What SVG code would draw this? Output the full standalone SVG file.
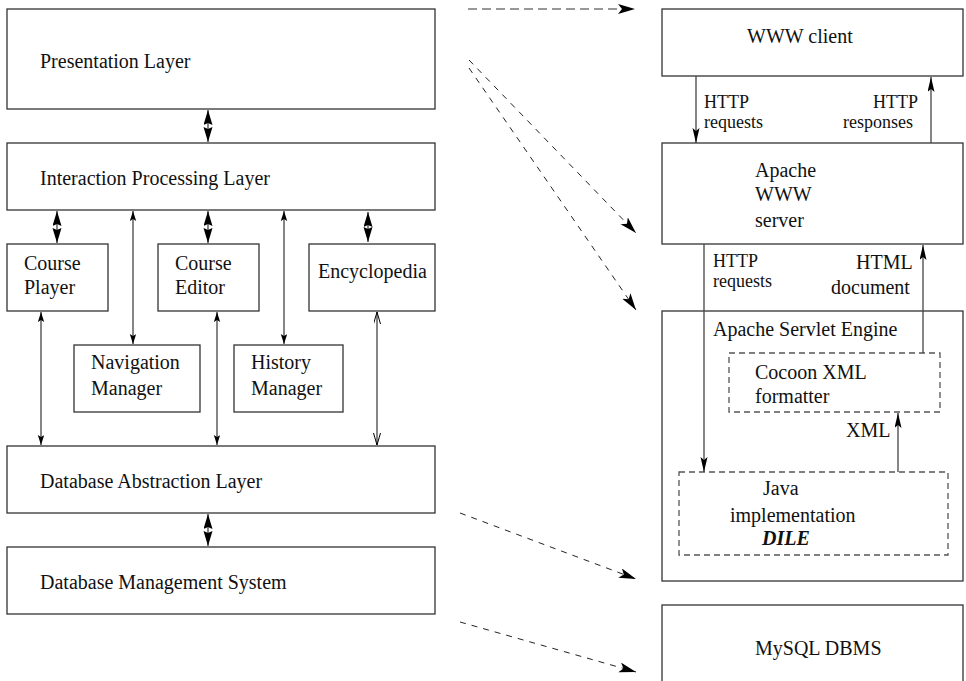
<svg xmlns="http://www.w3.org/2000/svg" width="966" height="681" viewBox="0 0 966 681">
  <style>
    text { font-family: "Liberation Serif", "Times New Roman", serif; font-size: 20px; fill: #111; }
    .lbl { font-size: 18px; }
    .box { fill: #fff; stroke: #333; stroke-width: 1.3; }
    .dbox { fill: none; stroke: #555; stroke-width: 1.3; stroke-dasharray: 6 4; }
    .ln { fill: none; stroke: #444; stroke-width: 1.3; }
    .dash { fill: none; stroke: #222; stroke-width: 1; stroke-dasharray: 6 6; }
    .dashg { fill: none; stroke: #777; stroke-width: 1.6; stroke-dasharray: 9 5; }
    .bi { font-weight: bold; font-style: italic; }
  </style>
  <defs>
    <!-- large filled head used by the layer-to-layer double arrows -->
    <marker id="hf" markerUnits="userSpaceOnUse" markerWidth="17" markerHeight="10" refX="15" refY="4.5" orient="auto-start-reverse">
      <path d="M0,0 L15,4.5 L0,9 L2,4.5 z" fill="#000"/>
    </marker>
    <!-- small filled head -->
    <marker id="hs" markerUnits="userSpaceOnUse" markerWidth="12" markerHeight="8" refX="10" refY="3.2" orient="auto-start-reverse">
      <path d="M0,0 L10,3.2 L0,6.4 L2,3.2 z" fill="#000"/>
    </marker>
    <!-- open head -->
    <marker id="ho" markerUnits="userSpaceOnUse" markerWidth="14" markerHeight="8" refX="12" refY="3.5" orient="auto-start-reverse">
      <path d="M0,0 L12,3.5 L0,7" fill="none" stroke="#000" stroke-width="1"/>
    </marker>
    <!-- narrow filled head for the HTTP flows -->
    <marker id="hr" markerUnits="userSpaceOnUse" markerWidth="17" markerHeight="9" refX="15" refY="3.5" orient="auto-start-reverse">
      <path d="M0,0 L15,3.5 L0,7 L3,3.5 z" fill="#000"/>
    </marker>
    <!-- head for the dashed mapping arrows -->
    <marker id="hd" markerUnits="userSpaceOnUse" markerWidth="20" markerHeight="12" refX="17" refY="5" orient="auto">
      <path d="M0,0 L17,5 L0,10 L4,5 z" fill="#000"/>
    </marker>
  </defs>

  <!-- left stack -->
  <g id="presentation-layer">
    <rect class="box" x="7" y="9" width="428" height="100"/>
    <text x="40" y="68">Presentation Layer</text>
  </g>
  <g id="interaction-processing-layer">
    <rect class="box" x="7" y="143" width="428" height="67"/>
    <text x="40" y="185">Interaction Processing Layer</text>
  </g>
  <g id="course-player">
    <rect class="box" x="7" y="244" width="101" height="67"/>
    <text x="24" y="270">Course</text>
    <text x="24" y="294">Player</text>
  </g>
  <g id="course-editor">
    <rect class="box" x="158" y="244" width="101" height="67"/>
    <text x="175" y="270">Course</text>
    <text x="175" y="294">Editor</text>
  </g>
  <g id="encyclopedia">
    <rect class="box" x="309" y="244" width="126" height="67"/>
    <text x="318" y="278">Encyclopedia</text>
  </g>
  <g id="navigation-manager">
    <rect class="box" x="74" y="345" width="126" height="67"/>
    <text x="91" y="369">Navigation</text>
    <text x="91" y="395">Manager</text>
  </g>
  <g id="history-manager">
    <rect class="box" x="234" y="345" width="109" height="67"/>
    <text x="251" y="369">History</text>
    <text x="251" y="395">Manager</text>
  </g>
  <g id="database-abstraction-layer">
    <rect class="box" x="7" y="446" width="428" height="67"/>
    <text x="40" y="488">Database Abstraction Layer</text>
  </g>
  <g id="database-management-system">
    <rect class="box" x="7" y="547" width="428" height="67"/>
    <text x="40" y="589">Database Management System</text>
  </g>

  <!-- right stack -->
  <g id="www-client">
    <rect class="box" x="662" y="9" width="301" height="67"/>
    <text x="747" y="43">WWW client</text>
  </g>
  <g id="apache-www-server">
    <rect class="box" x="662" y="143" width="301" height="101"/>
    <text x="755" y="177">Apache</text>
    <text x="755" y="201">WWW</text>
    <text x="755" y="227">server</text>
  </g>
  <g id="apache-servlet-engine">
    <rect class="box" x="662" y="311" width="301" height="270"/>
    <text x="713" y="336">Apache Servlet Engine</text>
  </g>
  <g id="cocoon-xml-formatter">
    <rect class="dbox" x="729" y="353" width="211" height="59"/>
    <text x="755" y="379">Cocoon XML</text>
    <text x="755" y="403">formatter</text>
  </g>
  <g id="java-implementation">
    <rect class="dbox" x="679" y="472" width="269" height="83"/>
    <text x="763" y="495">Java</text>
    <text x="730" y="522">implementation</text>
    <text class="bi" x="762" y="545">DILE</text>
  </g>
  <g id="mysql-dbms">
    <rect class="box" x="662" y="605" width="301" height="80"/>
    <text x="755" y="655">MySQL DBMS</text>
  </g>

  <g id="connectors">
    <!-- layer links -->
    <line class="ln" x1="208" y1="110" x2="208" y2="142" marker-start="url(#hf)" marker-end="url(#hf)"/>
    <line class="ln" x1="57" y1="211" x2="57" y2="243" marker-start="url(#hf)" marker-end="url(#hf)"/>
    <line class="ln" x1="208" y1="211" x2="208" y2="243" marker-start="url(#hf)" marker-end="url(#hf)"/>
    <line class="ln" x1="368" y1="212" x2="368" y2="242" marker-start="url(#hf)" marker-end="url(#hf)"/>
    <line class="ln" x1="133" y1="211" x2="133" y2="344" marker-start="url(#hs)" marker-end="url(#hs)"/>
    <line class="ln" x1="284" y1="211" x2="284" y2="344" marker-start="url(#hs)" marker-end="url(#hs)"/>
    <line class="ln" x1="41" y1="312" x2="41" y2="445" marker-start="url(#hs)" marker-end="url(#hs)"/>
    <line class="ln" x1="217" y1="312" x2="217" y2="445" marker-start="url(#hs)" marker-end="url(#hs)"/>
    <line class="ln" x1="377" y1="312" x2="377" y2="445" marker-start="url(#ho)" marker-end="url(#ho)"/>
    <line class="ln" x1="208" y1="514" x2="208" y2="546" marker-start="url(#hf)" marker-end="url(#hf)"/>

    <!-- HTTP flows -->
    <line class="ln" x1="696" y1="76" x2="696" y2="143" marker-end="url(#hr)"/>
    <line class="ln" x1="931" y1="143" x2="931" y2="77" marker-end="url(#hr)"/>
    <line class="ln" x1="704" y1="244" x2="704" y2="472" marker-end="url(#hr)"/>
    <line class="ln" x1="923" y1="353" x2="923" y2="245" marker-end="url(#hr)"/>
    <line class="ln" x1="898" y1="472" x2="898" y2="413" marker-end="url(#hr)"/>
    <text class="lbl" x="704" y="108">HTTP</text>
    <text class="lbl" x="704" y="128">requests</text>
    <text class="lbl" x="873" y="108">HTTP</text>
    <text class="lbl" x="843" y="128">responses</text>
    <text class="lbl" x="713" y="267">HTTP</text>
    <text class="lbl" x="713" y="287">requests</text>
    <text x="856" y="269">HTML</text>
    <text x="831" y="294">document</text>
    <text x="846" y="437">XML</text>

    <!-- mapping of layers onto components -->
    <line class="dashg" x1="468" y1="9" x2="635" y2="9" marker-end="url(#hd)"/>
    <line class="dash" x1="469" y1="60" x2="636" y2="233" marker-end="url(#hd)"/>
    <line class="dash" x1="469" y1="68" x2="636" y2="310" marker-end="url(#hd)"/>
    <line class="dash" x1="460" y1="513" x2="636" y2="579" marker-end="url(#hd)"/>
    <line class="dash" x1="460" y1="622" x2="636" y2="672" marker-end="url(#hd)"/>
  </g>
</svg>
